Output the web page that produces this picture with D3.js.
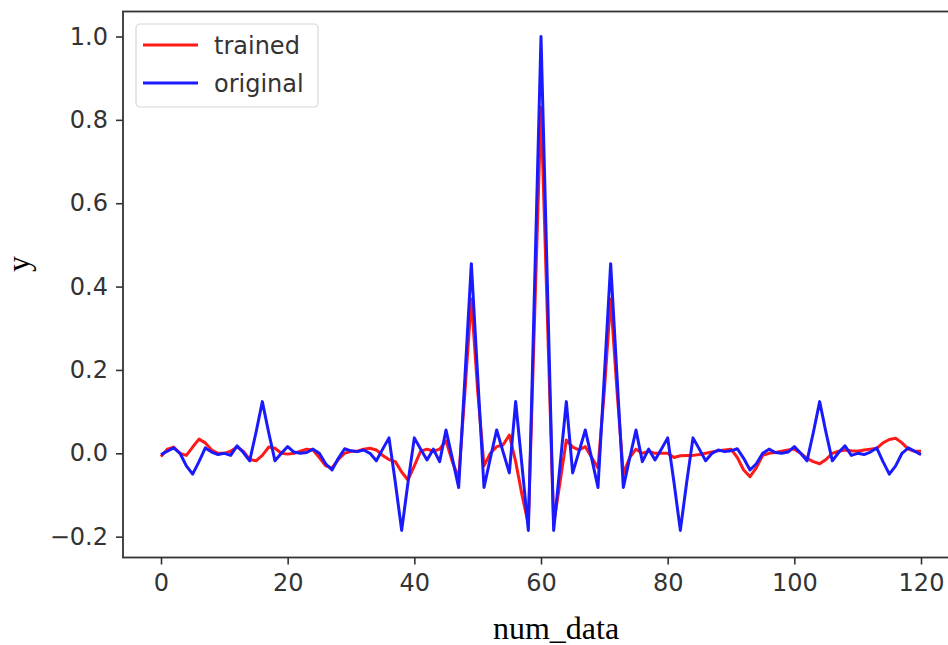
<!DOCTYPE html>
<html>
<head>
<meta charset="utf-8">
<script src="https://cdn.jsdelivr.net/npm/d3@7"></script>
<style>
  body { margin: 0; background: #fff; }
  svg { display: block; }
</style>
</head>
<body>
<div id="chart"></div>
<script>
// values, index 0..120
const trained = [
    -0.008, 0.01, 0.015, 0.0, -0.005, 0.015, 0.034, 0.025, 0.008, 0.0,
    0.0, 0.005, 0.015, 0.005, -0.015, -0.018, -0.005, 0.015, 0.012, 0.0,
    -0.002, 0.0, 0.005, 0.01, 0.008, -0.01, -0.03, -0.035, -0.015, 0.0,
    0.005, 0.005, 0.01, 0.012, 0.008, -0.005, -0.015, -0.02, -0.045, -0.064,
    -0.03, 0.005, 0.01, 0.005, 0.01, 0.03, -0.02, -0.06, 0.15, 0.37,
    0.15, -0.03, 0.0, 0.016, 0.02, 0.044, -0.02, -0.1, -0.17, 0.33,
    0.83, 0.33, -0.17, -0.07, 0.032, 0.015, 0.008, 0.016, -0.01, -0.035,
    0.15, 0.37, 0.15, -0.05, -0.01, 0.01, 0.0, 0.005, 0.0, 0.0,
    0.0, -0.01, -0.006, -0.005, -0.005, -0.003, 0.0, 0.003, 0.006, 0.008,
    0.01, -0.01, -0.04, -0.056, -0.035, -0.005, 0.0, 0.002, 0.005, 0.008,
    0.01, 0.0, -0.012, -0.02, -0.025, -0.015, 0.0, 0.005, 0.008, 0.006,
    0.005, 0.008, 0.01, 0.012, 0.025, 0.033, 0.036, 0.025, 0.01, 0.005,
    0.005
];

const original = [
    -0.003, 0.005, 0.013, 0.0, -0.03, -0.05, -0.02, 0.013, 0.003, -0.003,
    0.0, -0.005, 0.018, 0.002, -0.018, 0.05, 0.124, 0.05, -0.018, 0.0,
    0.016, 0.003, 0.0, 0.002, 0.01, 0.0, -0.025, -0.04, -0.012, 0.011,
    0.006, 0.004, 0.008, 0.0, -0.018, 0.01, 0.037, -0.07, -0.185, -0.07,
    0.037, 0.01, -0.016, 0.01, -0.02, 0.056, -0.012, -0.082, 0.185, 0.455,
    0.185, -0.082, -0.012, 0.056, 0.004, -0.047, 0.124, -0.03, -0.185, 0.41,
    1.0, 0.41, -0.185, -0.03, 0.124, -0.047, 0.004, 0.056, -0.012, -0.082,
    0.185, 0.455, 0.185, -0.082, -0.012, 0.056, -0.02, 0.01, -0.016, 0.01,
    0.037, -0.07, -0.185, -0.07, 0.037, 0.01, -0.018, 0.0, 0.008, 0.004,
    0.006, 0.011, -0.012, -0.04, -0.025, 0.0, 0.01, 0.002, 0.0, 0.003,
    0.016, 0.0, -0.018, 0.05, 0.124, 0.05, -0.018, 0.002, 0.018, -0.005,
    0.0, -0.003, 0.003, 0.013, -0.02, -0.05, -0.03, 0.0, 0.013, 0.005,
    -0.003
];

const xTicks = [0, 20, 40, 60, 80, 100, 120];
const yTicks = [-0.2, 0.0, 0.2, 0.4, 0.6, 0.8, 1.0];
const seriesNames = ['trained', 'original'];
const seriesColors = ['#ff1a1a', '#1a1aff'];

const width = 948, height = 645;
const margin = { top: 11.5, left: 123, bottom: 87.5 };
const plotW = 836; // right spine falls outside the picture
const plotH = height - margin.top - margin.bottom;

const svg = d3.select('#chart')
    .append('svg')
    .attr('width', width)
    .attr('height', height);

const x = d3.scaleLinear()
    .domain([-6, 126])
    .range([margin.left, margin.left + plotW]);

const y = d3.scaleLinear()
    .domain([-0.25, 1.06])
    .range([height - margin.bottom, margin.top]);

const tickFont = '"DejaVu Sans", sans-serif';

// lines
const line = d3.line()
    .x((d, i) => x(i))
    .y(d => y(d));

[trained, original].forEach((data, k) => {
    svg.append('path')
        .datum(data)
        .attr('fill', 'none')
        .attr('stroke', seriesColors[k])
        .attr('stroke-width', 3)
        .attr('stroke-linejoin', 'round')
        .attr('d', line);
});

// axes
const xAxis = svg.append('g')
    .attr('transform', `translate(0,${height - margin.bottom})`)
    .call(d3.axisBottom(x).tickValues(xTicks).tickSize(7).tickPadding(9).tickFormat(d3.format('d')));

const yAxis = svg.append('g')
    .attr('transform', `translate(${margin.left},0)`)
    .call(d3.axisLeft(y).tickValues(yTicks).tickSize(7).tickPadding(8)
        .tickFormat(d => d3.format('.1f')(d).replace('-', '\u2212')));

[xAxis, yAxis].forEach(g => {
    g.select('.domain').remove();
    g.selectAll('line').attr('stroke', '#333').attr('stroke-width', 1.6);
    g.selectAll('text')
        .attr('fill', '#333')
        .style('font-family', tickFont)
        .style('font-size', '24px');
});

// spines
svg.append('rect')
    .attr('x', margin.left)
    .attr('y', margin.top)
    .attr('width', plotW)
    .attr('height', plotH)
    .attr('fill', 'none')
    .attr('stroke', '#333')
    .attr('stroke-width', 1.8);

// axis labels
svg.append('text')
    .attr('x', 556)
    .attr('y', 639)
    .attr('text-anchor', 'middle')
    .style('font-family', '"Liberation Serif", serif')
    .style('font-size', '32px')
    .text('num_data');

svg.append('text')
    .attr('transform', 'translate(29,264) rotate(-90)')
    .attr('text-anchor', 'middle')
    .style('font-family', '"Liberation Serif", serif')
    .style('font-size', '32px')
    .text('y');

// legend
const legend = svg.append('g');
legend.append('rect')
    .attr('x', 136)
    .attr('y', 24)
    .attr('width', 182)
    .attr('height', 83)
    .attr('rx', 4)
    .attr('fill', '#fff')
    .attr('fill-opacity', 0.8)
    .attr('stroke', '#d6d6d6')
    .attr('stroke-width', 1.2);

seriesNames.forEach((name, k) => {
    const ly = 45 + k * 38;
    legend.append('line')
        .attr('x1', 143).attr('x2', 198)
        .attr('y1', ly).attr('y2', ly)
        .attr('stroke', seriesColors[k])
        .attr('stroke-width', 3);
    legend.append('text')
        .attr('x', 214)
        .attr('y', ly + 9)
        .attr('fill', '#333')
        .style('font-family', tickFont)
        .style('font-size', '24px')
        .text(name);
});
</script>
</body>
</html>
